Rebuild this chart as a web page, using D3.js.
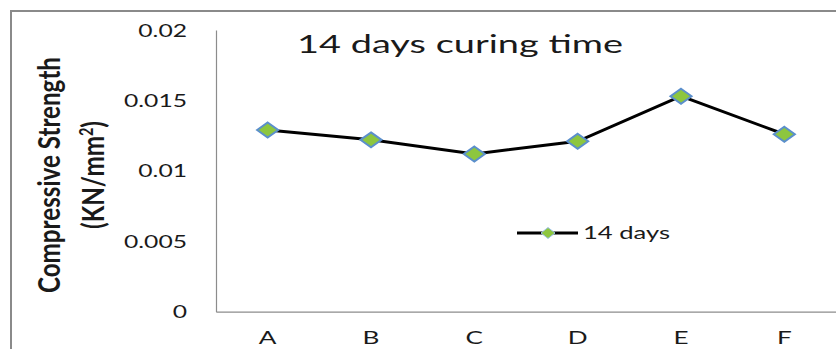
<!DOCTYPE html>
<html>
<head>
<meta charset="utf-8">
<script src="https://cdn.jsdelivr.net/npm/d3@7/dist/d3.min.js"></script>
<style>
  html, body { margin: 0; padding: 0; background: #fff; }
  svg { display: block; }
  text { font-family: Lato, "Open Sans", sans-serif; fill: #1a1a1a; }
</style>
</head>
<body>
<svg id="chart" width="836" height="349"></svg>
<script>
// Mix labels and 14-day compressive strength (KN/mm²)
const categories = ["A", "B", "C", "D", "E", "F"];
const strength14 = [0.0129, 0.0122, 0.0112, 0.0121, 0.0153, 0.0126];
const yTicks = [0, 0.005, 0.01, 0.015, 0.02];
const yTickLabels = ["0", "0.005", "0.01", "0.015", "0.02"];
const seriesName = "14 days";
const chartTitle = "14 days curing time";

const W = 836, H = 349;
const plot = { left: 216, right: 836, top: 30, bottom: 311.7 };
const SX = 1.45; // horizontal text widening

const svg = d3.select("#chart");

// widen a text node horizontally by SX via textLength
function widen(sel, factor) {
  sel.each(function () {
    const w = this.getComputedTextLength();
    d3.select(this).attr("textLength", w * (factor || SX)).attr("lengthAdjust", "spacingAndGlyphs");
  });
  return sel;
}

// outer frame (top and left edges)
svg.append("path")
  .attr("d", `M11,${H} L11,11 L${W},11`)
  .attr("fill", "none").attr("stroke", "#8a8a8a").attr("stroke-width", 2);

const x = d3.scaleBand().domain(categories).range([plot.left, plot.right]);
const y = d3.scaleLinear().domain([0, 0.02]).range([plot.bottom, plot.top]);

// y axis
const yAxis = d3.axisLeft(y).tickValues(yTicks)
  .tickFormat((d, i) => yTickLabels[i]).tickSize(0).tickPadding(29);
const gy = svg.append("g").attr("transform", `translate(${plot.left},0)`).call(yAxis);
gy.select(".domain").attr("stroke", "#8c8c8c").attr("stroke-width", 1.2);
gy.selectAll("text").attr("font-size", 17).attr("font-family", "Lato, sans-serif")
  .attr("fill", "#222").attr("dy", "0.36em").call(widen);

// x axis
const xAxis = d3.axisBottom(x).tickSize(0).tickPadding(20);
const gx = svg.append("g").attr("transform", `translate(0,${plot.bottom})`).call(xAxis);
gx.select(".domain").attr("stroke", "#8c8c8c").attr("stroke-width", 1.2);
gx.selectAll("text").attr("font-size", 18).attr("font-family", "Lato, sans-serif")
  .attr("fill", "#222").call(widen);

// series line
const line = d3.line()
  .x((d, i) => x(categories[i]) + x.bandwidth() / 2)
  .y(d => y(d));
svg.append("path").datum(strength14)
  .attr("d", line).attr("fill", "none")
  .attr("stroke", "#000").attr("stroke-width", 3);

// diamond markers
function diamond(w, h) {
  return `M0,${-h / 2} L${w / 2},0 L0,${h / 2} L${-w / 2},0 Z`;
}
svg.append("g").selectAll("path").data(strength14).join("path")
  .attr("transform", (d, i) => `translate(${x(categories[i]) + x.bandwidth() / 2},${y(d)})`)
  .attr("d", diamond(21, 15))
  .attr("fill", "#8DC63F").attr("stroke", "#5B8FCC").attr("stroke-width", 2);

// title
svg.append("text").attr("x", 297).attr("y", 53)
  .attr("font-size", 25).attr("fill", "#111").text(chartTitle)
  .attr("textLength", 326).attr("lengthAdjust", "spacingAndGlyphs");

// y axis title (two lines, rotated)
const yt = svg.append("g").attr("transform", "translate(0,175) rotate(-90)");
yt.append("text").attr("x", 0).attr("y", 60).attr("text-anchor", "middle")
  .attr("font-size", 30).attr("font-weight", 700).attr("fill", "#000")
  .attr("textLength", 236).attr("lengthAdjust", "spacingAndGlyphs")
  .text("Compressive Strength");
const l2 = yt.append("text").attr("x", 0).attr("y", 104).attr("text-anchor", "middle")
  .attr("font-size", 30).attr("font-weight", 700).attr("fill", "#000")
  .attr("textLength", 108).attr("lengthAdjust", "spacingAndGlyphs");
l2.append("tspan").text("(KN/mm");
l2.append("tspan").attr("font-size", 18).attr("dy", -11).text("2");
l2.append("tspan").attr("dy", 11).text(")");

// legend
const lg = svg.append("g").attr("transform", "translate(517,233)");
lg.append("line").attr("x1", 0).attr("x2", 61).attr("y1", 0).attr("y2", 0)
  .attr("stroke", "#000").attr("stroke-width", 3);
lg.append("path").attr("transform", "translate(31,0)").attr("d", diamond(14, 11))
  .attr("fill", "#8DC63F").attr("stroke", "#9CC3E6").attr("stroke-width", 1);
lg.append("text").attr("x", 66).attr("y", 6).attr("font-size", 17).attr("fill", "#222")
  .attr("textLength", 87).attr("lengthAdjust", "spacingAndGlyphs").text(seriesName);
</script>
</body>
</html>
